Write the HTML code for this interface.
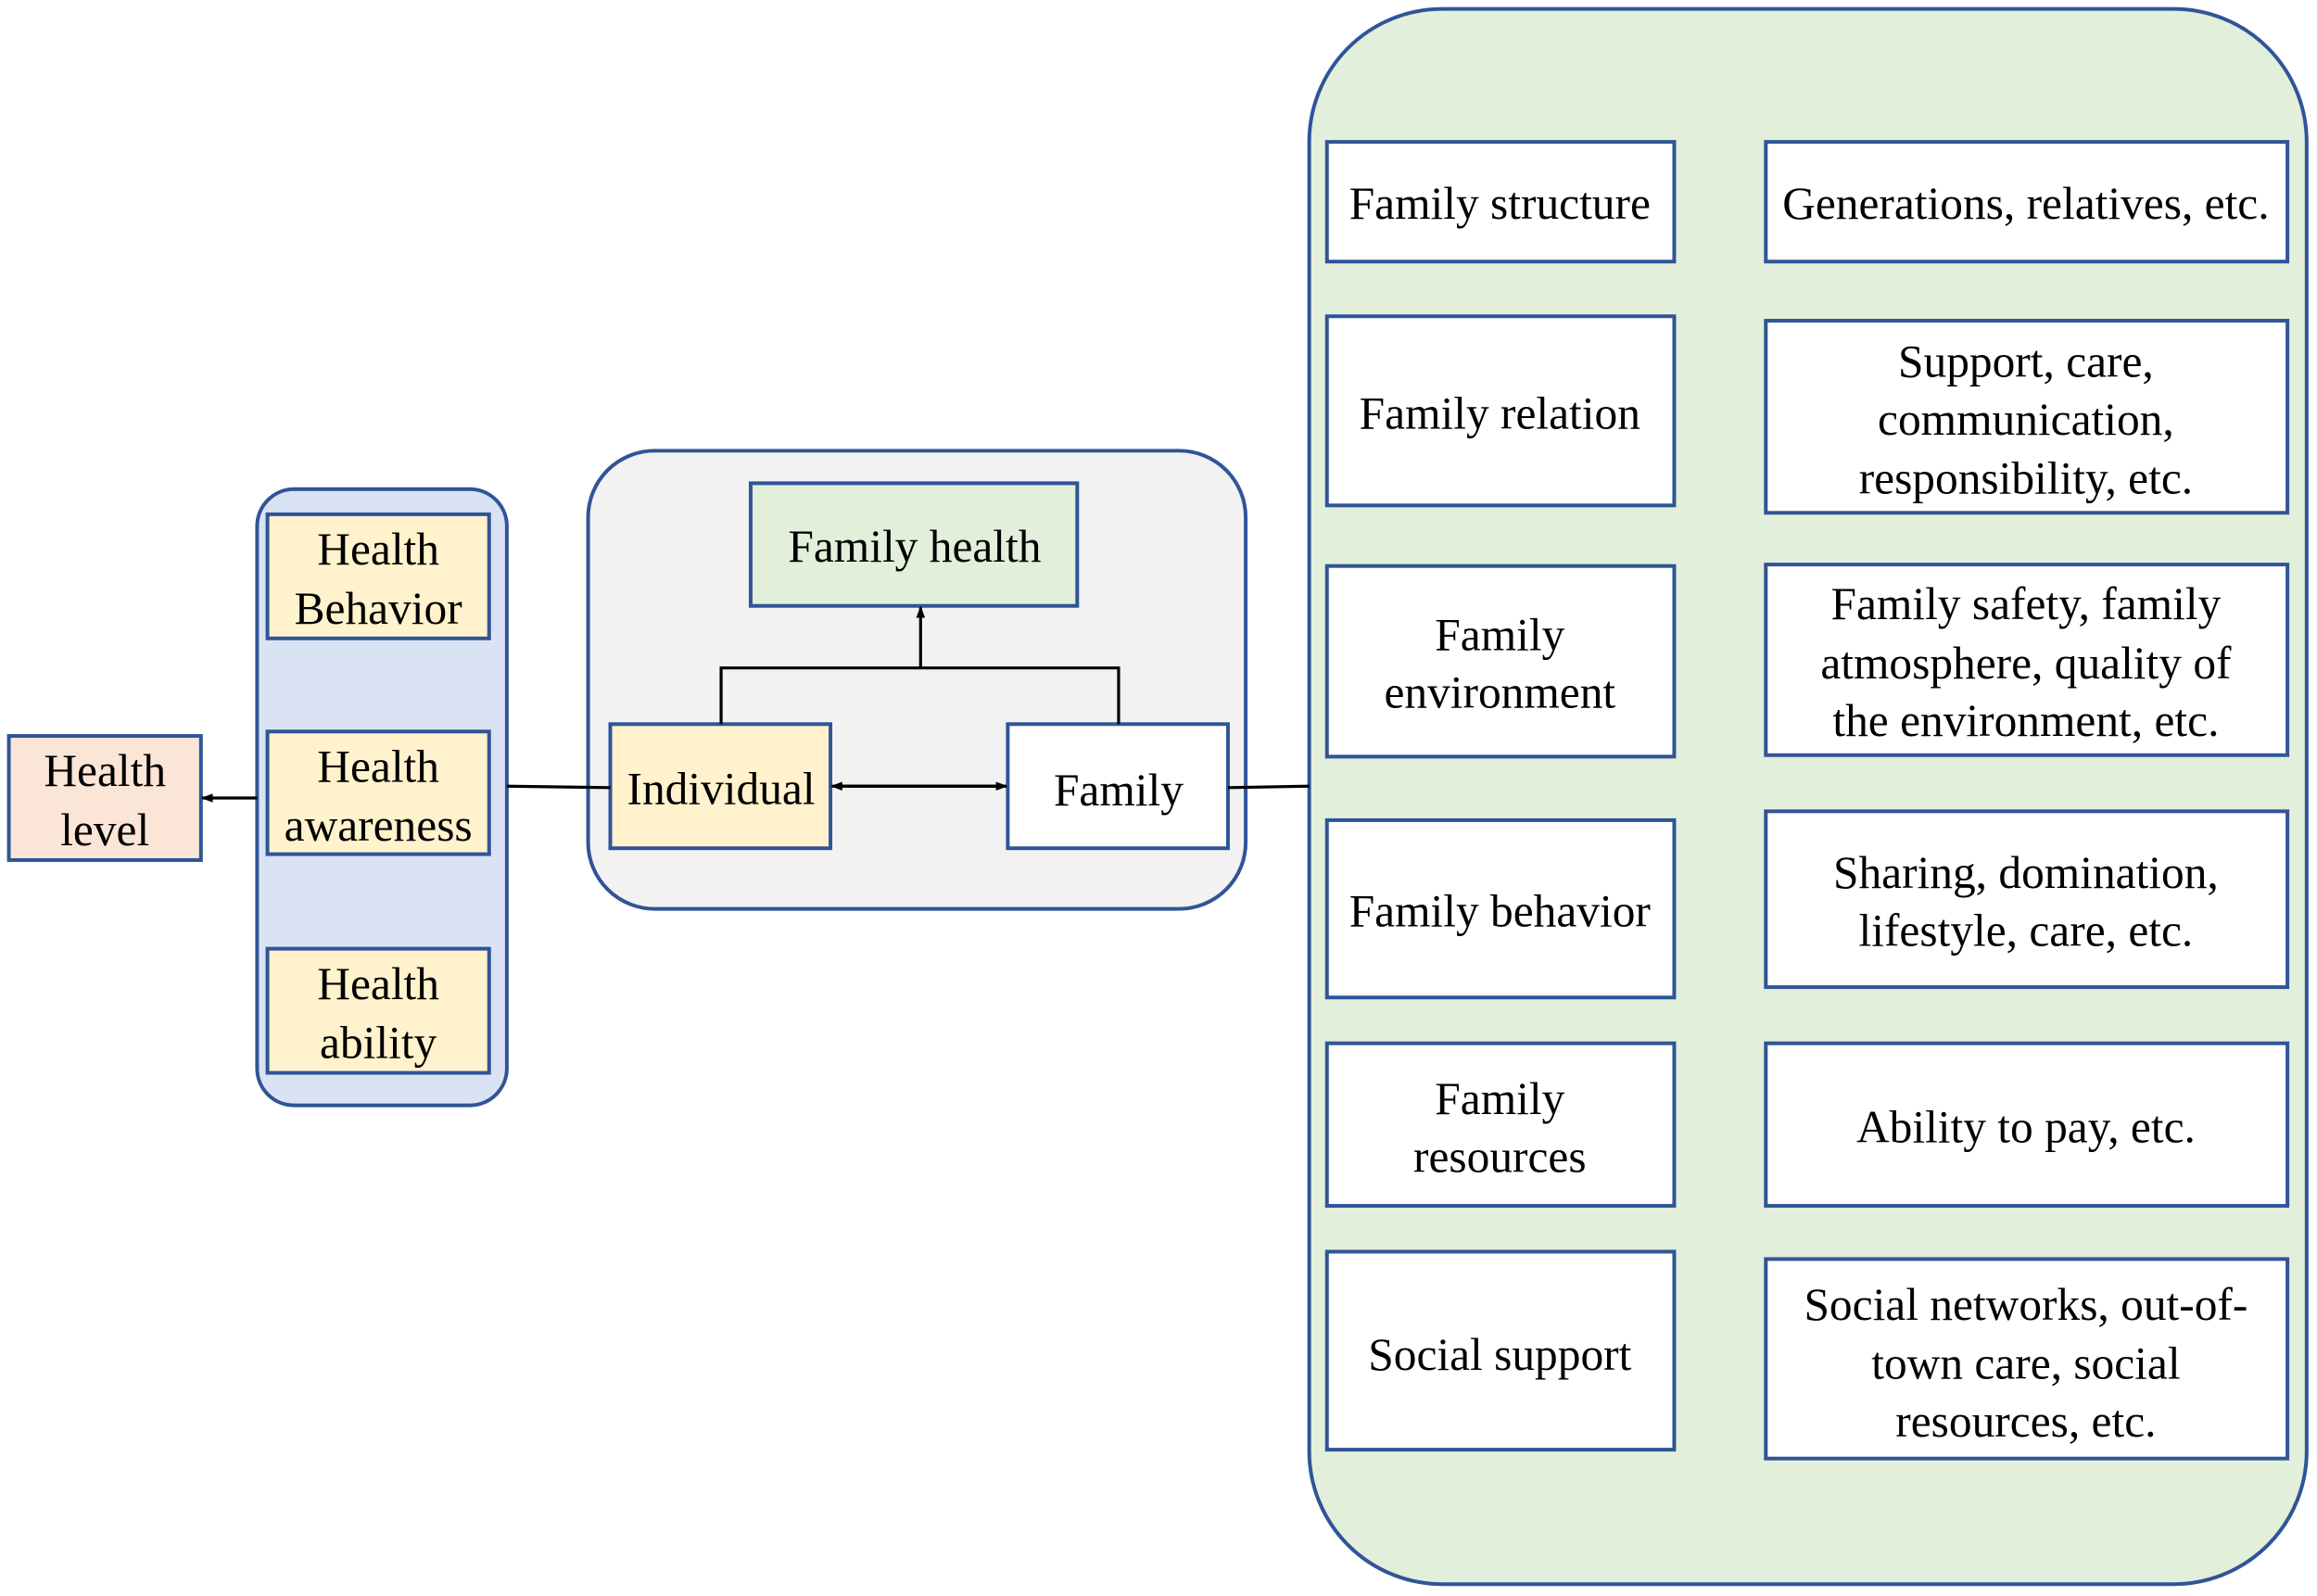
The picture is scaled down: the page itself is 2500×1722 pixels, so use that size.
<!DOCTYPE html>
<html><head><style>body{margin:0;background:#fff}svg{display:block}text{font-family:"Liberation Serif","Times New Roman",Times,"DejaVu Serif",serif;font-size:31px;fill:#000;text-anchor:middle}</style></head><body>
<svg width="2500" height="1722" viewBox="0 0 1568 1080" xmlns="http://www.w3.org/2000/svg" font-family="Liberation Serif, Times New Roman, serif">
<defs><marker id="a" markerWidth="8" markerHeight="8" refX="7" refY="4" orient="auto" markerUnits="userSpaceOnUse"><path d="M0,1 L8,4 L0,7 z" fill="#000"/></marker></defs>
<g stroke="#2f5597" stroke-width="2.5">
<rect x="886" y="6" width="675" height="1066" rx="90" fill="#e2efda"/>
<rect x="398" y="305" width="445" height="310" rx="45" fill="#f2f2f2"/>
<rect x="174" y="331" width="169" height="417" rx="25" fill="#dae3f3"/>
<rect x="6" y="498" width="130" height="84" fill="#fbe5d6"/>
<rect x="181" y="348" width="150" height="84" fill="#fff2cc"/>
<rect x="181" y="495" width="150" height="83" fill="#fff2cc"/>
<rect x="181" y="642" width="150" height="84" fill="#fff2cc"/>
<rect x="508" y="327" width="221" height="83" fill="#e2efda"/>
<rect x="413" y="490" width="149" height="84" fill="#fff2cc"/>
<rect x="682" y="490" width="149" height="84" fill="#fff"/>
<rect x="898" y="96" width="235" height="81" fill="#fff"/>
<rect x="898" y="214" width="235" height="128" fill="#fff"/>
<rect x="898" y="383" width="235" height="129" fill="#fff"/>
<rect x="898" y="555" width="235" height="120" fill="#fff"/>
<rect x="898" y="706" width="235" height="110" fill="#fff"/>
<rect x="898" y="847" width="235" height="134" fill="#fff"/>
<rect x="1195" y="96" width="353" height="81" fill="#fff"/>
<rect x="1195" y="217" width="353" height="130" fill="#fff"/>
<rect x="1195" y="382" width="353" height="129" fill="#fff"/>
<rect x="1195" y="549" width="353" height="119" fill="#fff"/>
<rect x="1195" y="706" width="353" height="110" fill="#fff"/>
<rect x="1195" y="852" width="353" height="135" fill="#fff"/>
</g>
<g stroke="#000" stroke-width="2" fill="none">
<line x1="174" y1="540" x2="137" y2="540" marker-end="url(#a)"/>
<line x1="343" y1="532" x2="413" y2="533"/>
<line x1="831" y1="533" x2="886" y2="532"/>
<line x1="570" y1="532" x2="681" y2="532" marker-end="url(#a)"/>
<line x1="674" y1="532" x2="563" y2="532" marker-end="url(#a)"/>
<polyline points="488,490 488,452 757,452 757,490"/>
<line x1="623" y1="452" x2="623" y2="411" marker-end="url(#a)"/>
</g>
<text x="71" y="532">Health</text><text x="71" y="572">level</text>
<text x="256" y="382">Health</text><text x="256" y="422">Behavior</text>
<text x="256" y="529">Health</text><text x="256" y="569">awareness</text>
<text x="256" y="676">Health</text><text x="256" y="716">ability</text>
<text x="619" y="380">Family health</text>
<text x="488" y="544">Individual</text>
<text x="757" y="545">Family</text>
<text x="1015" y="148">Family structure</text>
<text x="1015" y="290">Family relation</text>
<text x="1015" y="440">Family</text><text x="1015" y="479">environment</text>
<text x="1015" y="627">Family behavior</text>
<text x="1015" y="754">Family</text><text x="1015" y="793">resources</text>
<text x="1015" y="927">Social support</text>
<text x="1371" y="148">Generations, relatives, etc.</text>
<text x="1371" y="255">Support, care,</text><text x="1371" y="294">communication,</text><text x="1371" y="334">responsibility, etc.</text>
<text x="1371" y="419">Family safety, family</text><text x="1371" y="459">atmosphere, quality of</text><text x="1371" y="498">the environment, etc.</text>
<text x="1371" y="601">Sharing, domination,</text><text x="1371" y="640">lifestyle, care, etc.</text>
<text x="1371" y="773">Ability to pay, etc.</text>
<text x="1371" y="893">Social networks, out-of-</text><text x="1371" y="933">town care, social</text><text x="1371" y="972">resources, etc.</text>
</svg>
</body></html>
